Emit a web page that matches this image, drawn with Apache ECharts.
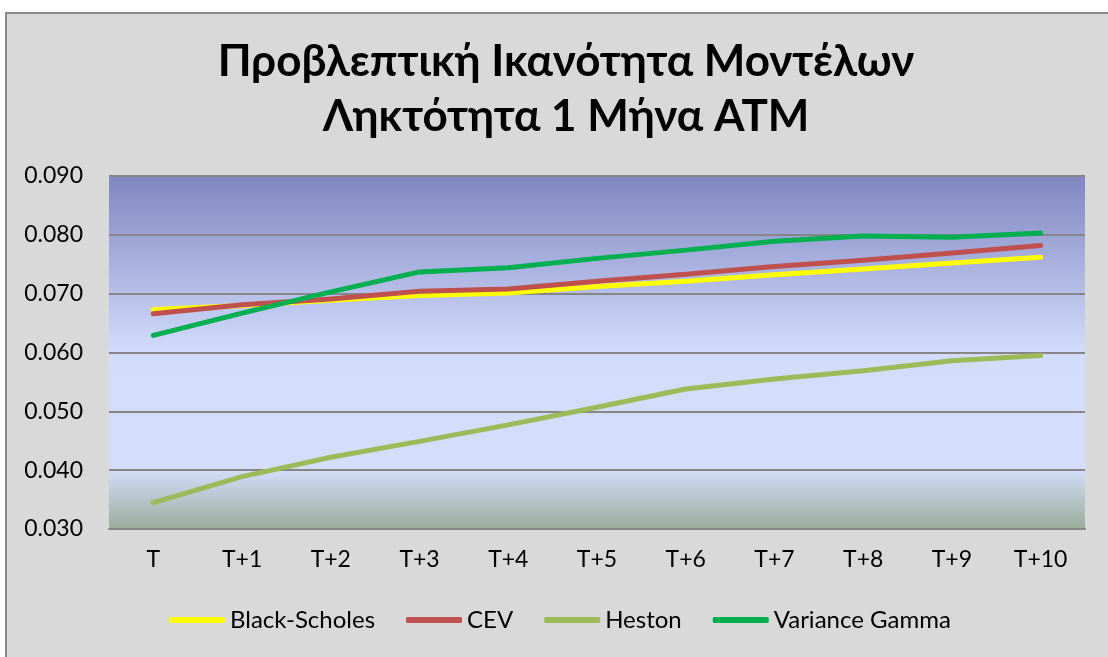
<!DOCTYPE html>
<html>
<head>
<meta charset="utf-8">
<script src="https://cdn.jsdelivr.net/npm/echarts@6/dist/echarts.min.js"></script>
<style>
  html, body { margin: 0; padding: 0; background: #ffffff; }
  #chart { width: 1108px; height: 657px; }
</style>
</head>
<body>
<div id="chart"></div>
<script>
// Horizons after the pricing date
const categories = ['T', 'T+1', 'T+2', 'T+3', 'T+4', 'T+5', 'T+6', 'T+7', 'T+8', 'T+9', 'T+10'];

// Predictive error of each model, 1-month ATM options
const blackScholes = [0.0673, 0.0680, 0.0689, 0.0697, 0.0701, 0.0712, 0.0721, 0.0732, 0.0742, 0.0752, 0.0762];
const cev          = [0.0666, 0.0681, 0.0691, 0.0704, 0.0708, 0.0721, 0.0733, 0.0746, 0.0757, 0.0769, 0.0782];
const heston       = [0.0345, 0.0389, 0.0422, 0.0449, 0.0477, 0.0507, 0.0538, 0.0555, 0.0569, 0.0586, 0.0595];
const varianceGamma = [0.0629, 0.0667, 0.0703, 0.0737, 0.0744, 0.0760, 0.0774, 0.0789, 0.0798, 0.0796, 0.0803];

const titleLines = ['Προβλεπτική Ικανότητα Μοντέλων', 'Ληκτότητα 1 Μήνα ATM'];

const FONT = 'Lato, "Open Sans", "Noto Sans", sans-serif';

const chart = echarts.init(document.getElementById('chart'), null, { renderer: 'canvas' });

function lineSeries(name, data, color) {
  return {
    name: name,
    type: 'line',
    data: data,
    symbol: 'none',
    smooth: false,
    lineStyle: { color: color, width: 5, cap: 'round', join: 'round' },
    itemStyle: { color: color }
  };
}

chart.setOption({
  backgroundColor: '#ffffff',
  animation: false,
  graphic: [{
    type: 'rect',
    z: -10,
    shape: { x: 6, y: 13, width: 1200, height: 800 },
    style: { fill: '#d9d9d9', stroke: '#8a8a8a', lineWidth: 2 }
  }],
  title: {
    text: titleLines.join('\n'),
    left: 561,
    top: 29,
    textAlign: 'center',
    textStyle: {
      fontFamily: FONT,
      fontWeight: 'bold',
      fontSize: 44,
      lineHeight: 55,
      color: '#000000'
    }
  },
  grid: {
    left: 109,
    right: 23,
    top: 176,
    bottom: 128,
    show: true,
    borderWidth: 0,
    backgroundColor: new echarts.graphic.LinearGradient(0, 0, 0, 1, [
      { offset: 0, color: '#7f86c1' },
      { offset: 0.5, color: '#d2dcfb' },
      { offset: 0.83, color: '#d4defc' },
      { offset: 1, color: '#99ad9a' }
    ])
  },
  legend: {
    data: ['Black-Scholes', 'CEV', 'Heston', 'Variance Gamma'],
    left: 169,
    top: 608,
    padding: 0,
    itemWidth: 56,
    itemHeight: 6,
    itemGap: 31,
    icon: 'roundRect',
    textStyle: { fontFamily: FONT, fontSize: 24, color: '#000000' }
  },
  xAxis: {
    type: 'category',
    data: categories,
    boundaryGap: true,
    axisLine: { show: true, lineStyle: { color: '#868686', width: 2 } },
    axisTick: { show: false },
    axisLabel: { fontFamily: FONT, fontSize: 23, color: '#000000', margin: 19 }
  },
  yAxis: {
    type: 'value',
    min: 0.030,
    max: 0.090,
    interval: 0.010,
    axisLine: { show: false },
    axisTick: { show: false },
    splitLine: { show: true, lineStyle: { color: '#868686', width: 2 } },
    axisLabel: {
      fontFamily: FONT,
      fontSize: 23,
      color: '#000000',
      margin: 26,
      formatter: function (v) { return v.toFixed(3); }
    }
  },
  series: [
    lineSeries('Black-Scholes', blackScholes, '#ffff00'),
    lineSeries('CEV', cev, '#c0504d'),
    lineSeries('Heston', heston, '#9bbb59'),
    lineSeries('Variance Gamma', varianceGamma, '#00b050')
  ]
});
</script>
</body>
</html>
